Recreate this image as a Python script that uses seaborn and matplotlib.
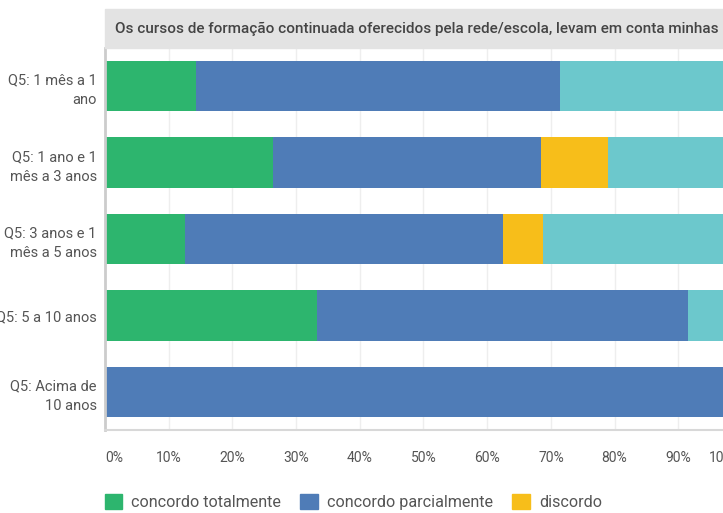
import matplotlib
matplotlib.use('Agg')
import matplotlib.pyplot as plt
import matplotlib.patches as mpatches
import seaborn as sns
import pandas as pd

# data (percent of answers per group)
grupos = ['Q5: 1 mês a 1\nano', 'Q5: 1 ano e 1\nmês a 3 anos', 'Q5: 3 anos e 1\nmês a 5 anos',
          'Q5: 5 a 10 anos', 'Q5: Acima de\n10 anos']
respostas = ['concordo totalmente', 'concordo parcialmente', 'discordo', 'discordo totalmente']
concordo_tot = [14.3, 26.3, 12.5, 33.3, 0.0]
concordo_parc = [57.1, 42.1, 50.0, 58.3, 100.0]
discordo = [0.0, 10.5, 6.25, 0.0, 0.0]
discordo_tot = [28.6, 21.1, 31.25, 8.4, 0.0]
cores = ['#2db56e', '#4f7cb7', '#f7be1a', '#6cc8cc']
titulo = 'Os cursos de formação continuada oferecidos pela rede/escola, levam em conta minhas'

sns.set_style('white')
plt.rcParams['font.family'] = ['Roboto', 'DejaVu Sans']
texto = '#555555'

df = pd.DataFrame({'grupo': grupos,
                   respostas[0]: concordo_tot,
                   respostas[1]: concordo_parc,
                   respostas[2]: discordo,
                   respostas[3]: discordo_tot})

# cumulative sums so that the stacked bars can be drawn back to front
acum = df[respostas].cumsum(axis=1)
acum['grupo'] = df['grupo']

fig = plt.figure(figsize=(7.23, 5.13), dpi=100)
ax = fig.add_axes([105 / 723, 1 - 430 / 513, (742 - 105) / 723, (430 - 48) / 513])

for resp, cor in reversed(list(zip(respostas, cores))):
    sns.barplot(data=acum, x=resp, y='grupo', color=cor, orient='h',
                width=0.66, ax=ax, saturation=1, edgecolor='none')

ax.set_xlim(0, 100)
ax.set_ylim(4.5, -0.5)
ax.set_xticks(range(0, 101, 10))
ax.set_xticklabels([f'{v}%' for v in range(0, 101, 10)], fontsize=10, color=texto)
xlabs = ax.get_xticklabels()
xlabs[0].set_horizontalalignment('left')
xlabs[-1].set_horizontalalignment('right')
ax.tick_params(axis='x', length=0, pad=15)
ax.tick_params(axis='y', length=0, pad=6, labelsize=10.5, labelcolor=texto)
for lab in ax.get_yticklabels():
    lab.set_horizontalalignment('right')
    lab.set_linespacing(1.5)
ax.set_xlabel('')
ax.set_ylabel('')
ax.grid(axis='x', color='#eeeeee', lw=1)
ax.set_axisbelow(True)
for s in ['top', 'right']:
    ax.spines[s].set_visible(False)
ax.spines['left'].set_color('#cccccc')
ax.spines['left'].set_linewidth(2)
ax.spines['bottom'].set_color('#d8d8d8')
ax.spines['bottom'].set_linewidth(1.5)

# grey title band
fig.patches.append(mpatches.Rectangle((105 / 723, 1 - 48 / 513), 1, 39 / 513,
                                      transform=fig.transFigure, color='#e3e3e3', zorder=0))
fig.text(115 / 723, 1 - 29 / 513, titulo, fontsize=11, color='#444444',
         va='center', ha='left', fontweight='medium')

handles = [mpatches.Patch(color=c, label=r) for c, r in zip(cores[:3], respostas[:3])]
fig.legend(handles=handles, loc='center left', bbox_to_anchor=(90 / 723, 11 / 513),
           ncol=3, frameon=False, fontsize=11.6, labelcolor=texto,
           handlelength=1.1, handleheight=1.1, handletextpad=0.55, columnspacing=1.2)

fig.savefig('out.png', dpi=100)
